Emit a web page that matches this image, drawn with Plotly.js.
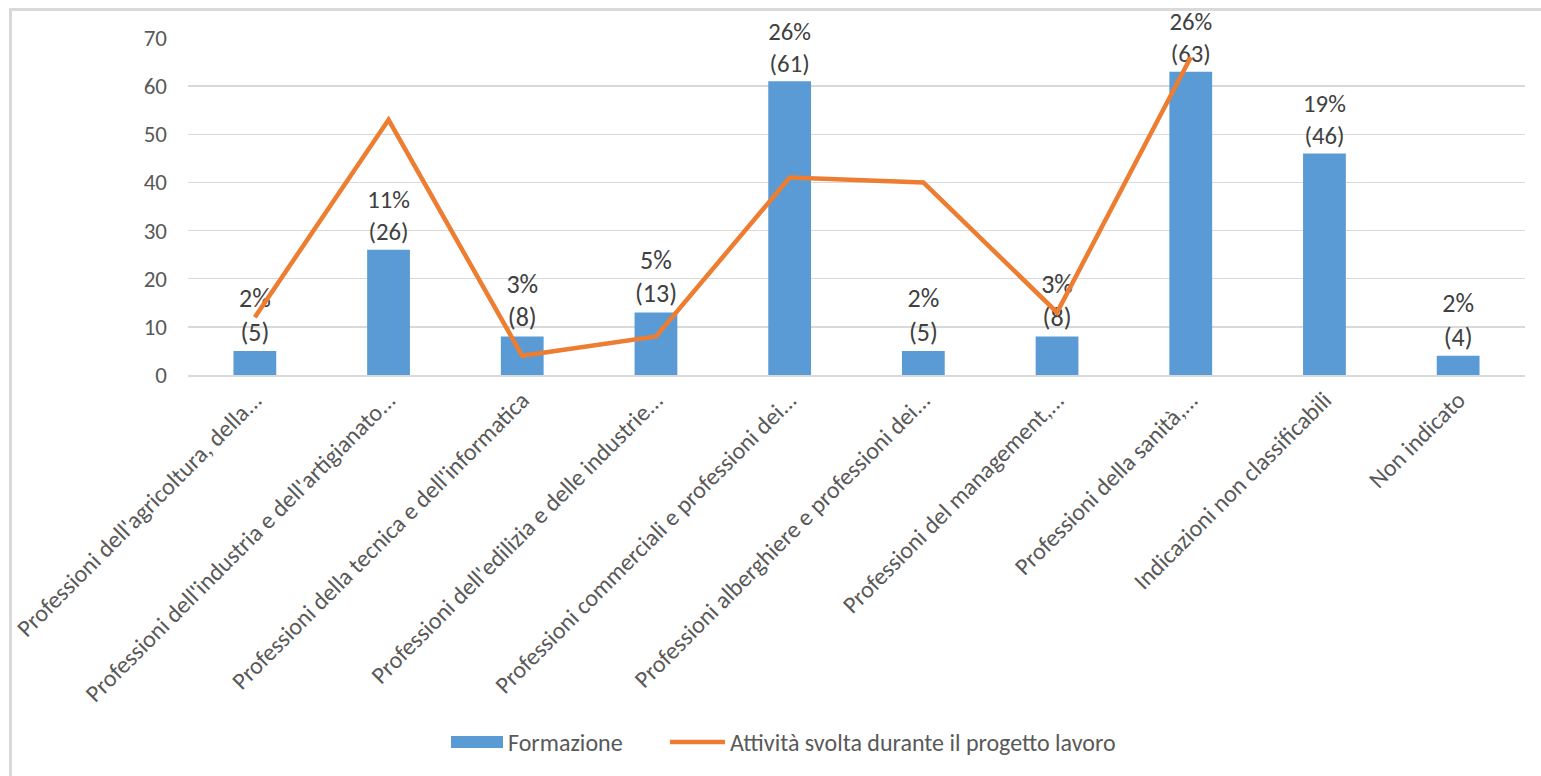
<!DOCTYPE html>
<html>
<head>
<meta charset="utf-8">
<script src="https://cdn.plot.ly/plotly-3.0.1.min.js"></script>
<style>
html,body{margin:0;padding:0;background:#fff;overflow:hidden;}
#frame{position:absolute;left:9px;top:8px;width:1540px;height:780px;border-left:3px solid #d9d9d9;border-top:3px solid #d9d9d9;}
#chart{position:absolute;left:0;top:0;width:1541px;height:776px;}
</style>
</head>
<body>
<div id="frame"></div>
<div id="chart"></div>
<script>
const categories = [
  "Professioni dell'agricoltura, della...",
  "Professioni dell'industria e dell'artigianato...",
  "Professioni della tecnica e dell'informatica",
  "Professioni dell'edilizia e delle industrie...",
  "Professioni commerciali e professioni dei...",
  "Professioni alberghiere e professioni dei...",
  "Professioni del management,...",
  "Professioni della sanità,...",
  "Indicazioni non classificabili",
  "Non indicato"
];
const formazione = [5, 26, 8, 13, 61, 5, 8, 63, 46, 4];
const formazionePct = ["2%", "11%", "3%", "5%", "26%", "2%", "3%", "26%", "19%", "2%"];
const attivita = [12, 53, 4, 8, 41, 40, 13, 66, null, null];
const seriesNames = ["Formazione", "Attività svolta durante il progetto lavoro"];

const labels = formazione.map((v, i) => formazionePct[i] + "<br>(" + v + ")");

const font = "Carlito, Calibri, 'Liberation Sans', sans-serif";
const BLUE = "#5b9bd5", ORANGE = "#ed7d31";

const traces = [
  {
    type: "bar",
    name: seriesNames[0],
    x: categories,
    y: formazione,
    marker: {color: BLUE},
    text: labels,
    textposition: "outside",
    textfont: {family: font, size: 26, color: "#404040"},
    cliponaxis: false
  },
  {
    type: "scatter",
    mode: "lines",
    name: seriesNames[1],
    x: categories,
    y: attivita,
    line: {color: ORANGE, width: 4.5},
    connectgaps: false
  }
];

// custom legend placement (pixel -> paper)
const L = 188, W = 1337, T = 375, H = 337;
const px = v => (v - L) / W;
const py = v => (T - v) / H;

const layout = {
  width: 1541,
  height: 776,
  margin: {l: 188, r: 16, t: 38, b: 401},
  paper_bgcolor: "rgba(0,0,0,0)",
  plot_bgcolor: "rgba(0,0,0,0)",
  bargap: 0.68,
  showlegend: false,
  font: {family: font, color: "#595959"},
  xaxis: {
    type: "category",
    tickangle: -45,
    tickfont: {family: font, size: 24, color: "#595959"},
    showgrid: false,
    showline: true,
    linecolor: "#d9d9d9",
    linewidth: 1.5,
    ticks: "",
    automargin: false
  },
  yaxis: {
    range: [0, 70],
    dtick: 10,
    tickfont: {family: font, size: 23, color: "#595959"},
    showgrid: true,
    gridcolor: "#d9d9d9",
    gridwidth: 1.5,
    zeroline: false,
    showline: false,
    ticks: "",
    ticklabelstandoff: 20,
    automargin: false
  },
  shapes: [
    {type: "rect", xref: "paper", yref: "paper", x0: px(451), x1: px(503), y0: py(748), y1: py(736),
     fillcolor: BLUE, line: {width: 0}},
    {type: "line", xref: "paper", yref: "paper", x0: px(670), x1: px(725), y0: py(742), y1: py(742),
     line: {color: ORANGE, width: 4.5}}
  ],
  annotations: [
    {xref: "paper", yref: "paper", x: px(506), y: py(742), xanchor: "left", yanchor: "middle",
     text: seriesNames[0], showarrow: false, font: {family: font, size: 24, color: "#595959"}},
    {xref: "paper", yref: "paper", x: px(728), y: py(742), xanchor: "left", yanchor: "middle",
     text: seriesNames[1], showarrow: false, font: {family: font, size: 24, color: "#595959"}}
  ]
};

Plotly.newPlot("chart", traces, layout, {displayModeBar: false, staticPlot: true});
</script>
</body>
</html>
